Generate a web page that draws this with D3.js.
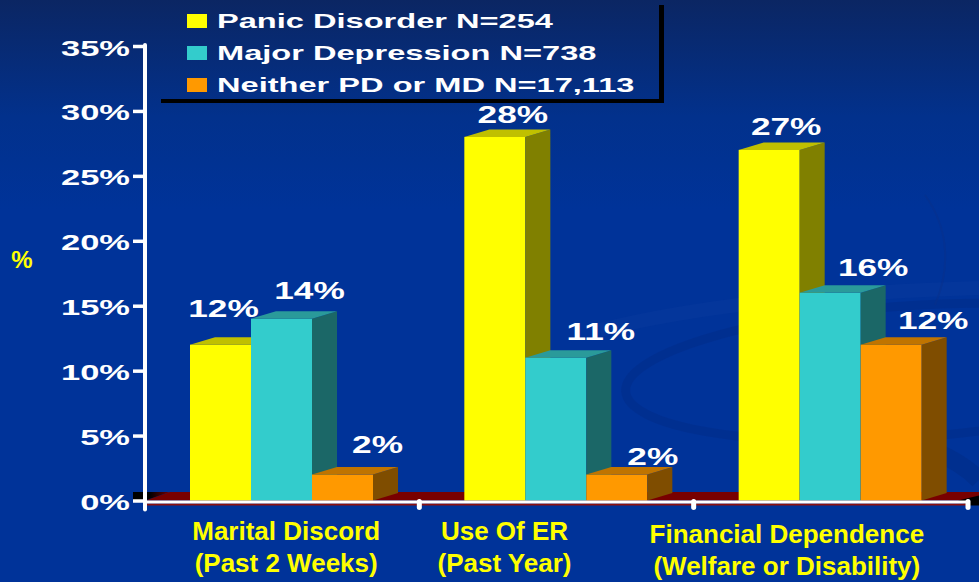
<!DOCTYPE html>
<html>
<head>
<meta charset="utf-8">
<script src="https://cdn.jsdelivr.net/npm/d3@7"></script>
<style>
  html, body { margin: 0; padding: 0; background: #003399; overflow: hidden; }
  svg { display: block; }
  text { font-family: "Liberation Sans", Arial, Helvetica, sans-serif; font-weight: bold; }
</style>
</head>
<body>
<svg id="chart" width="979" height="582"></svg>
<script>
// ---- data ----
const categories = ["Marital Discord", "Use Of ER", "Financial Dependence"];
const categorySublines = ["(Past 2 Weeks)", "(Past Year)", "(Welfare or Disability)"];
const seriesNames = ["Panic Disorder N=254", "Major Depression N=738", "Neither PD or MD N=17,113"];
const panicDisorder = [12, 28, 27];
const majorDepression = [14, 11, 16];
const neitherGroup = [2, 2, 12];
const yTicks = [0, 5, 10, 15, 20, 25, 30, 35];

// ---- hand-placed annotation nudges (px), indexed [category][series] ----
const valueLabelDx = [[3, 28, 35], [18, 45, 36], [17, 43, 42]];
const valueLabelGap = [[28, 20, 22], [14, 18, 10], [15, 17, 16]];
const categoryLabelDx = [4, -52, -44];
const categoryLabelDy = [0, 0, 3];

// ---- styles ----
const seriesValues = [panicDisorder, majorDepression, neitherGroup];
const faceFront = ["#FFFF00", "#33CCCC", "#FF9900"];
const faceSide  = ["#808000", "#1B6767", "#7F4D00"];
const faceTop   = ["#C0C000", "#2A9A9A", "#C07400"];
const depthX = 25, depthY = 7.5;

const W = 979, H = 582;
const svg = d3.select("#chart");

// ---- background ----
const defs = svg.append("defs");
const bg = defs.append("linearGradient").attr("id", "bgGrad")
  .attr("x1", 0).attr("y1", 0).attr("x2", 0).attr("y2", 1);
bg.append("stop").attr("offset", "0%").attr("stop-color", "#0b2663");
bg.append("stop").attr("offset", "20%").attr("stop-color", "#02318c");
bg.append("stop").attr("offset", "36%").attr("stop-color", "#003399");
bg.append("stop").attr("offset", "100%").attr("stop-color", "#003399");
svg.append("rect").attr("width", W).attr("height", H).attr("fill", "url(#bgGrad)");

const floorGrad = defs.append("linearGradient").attr("id", "floorLeft")
  .attr("x1", 0).attr("y1", 0).attr("x2", 1).attr("y2", 0);
floorGrad.append("stop").attr("offset", "0%").attr("stop-color", "#000000");
floorGrad.append("stop").attr("offset", "45%").attr("stop-color", "#000000");
floorGrad.append("stop").attr("offset", "100%").attr("stop-color", "#780000");

// faint decorative swooshes
const deco = svg.append("g").attr("fill", "none");
deco.append("ellipse")
  .attr("cx", 905).attr("cy", 372).attr("rx", 280).attr("ry", 66)
  .attr("transform", "rotate(-4 905 372)")
  .attr("stroke", "#00297f").attr("stroke-opacity", 0.3).attr("stroke-width", 9);
deco.append("path")
  .attr("d", "M600,330 C720,300 860,292 979,288")
  .attr("stroke", "#1a49a8").attr("stroke-opacity", 0.15).attr("stroke-width", 14);
deco.append("path")
  .attr("d", "M860,430 C920,440 960,460 979,480")
  .attr("stroke", "#002a80").attr("stroke-opacity", 0.4).attr("stroke-width", 18);
deco.append("path")
  .attr("d", "M925,195 C950,230 950,270 935,305")
  .attr("stroke", "#0a2f88").attr("stroke-opacity", 0.4).attr("stroke-width", 2);

// ---- scales ----
const y = d3.scaleLinear().domain([0, 35]).range([500.5, 46]);
const x = d3.scaleBand().domain(categories).range([145, 968]);
const inner = d3.scaleBand().domain(seriesNames).range([45, 45 + 183]);

// stretched white text helper
function wideText(parent, tx, ty, str, size, sx, anchor, fill) {
  return parent.append("text")
    .attr("transform", `translate(${tx},${ty}) scale(${sx},1)`)
    .attr("text-anchor", anchor)
    .attr("font-size", size)
    .attr("fill", fill)
    .text(str);
}

// ---- floor ----
const base = y(0);
const xStart = x.range()[0], xEnd = x.range()[1];
svg.append("polygon")
  .attr("points", [[xStart, base], [xStart + depthX, base - depthY - 1], [xEnd + depthX, base - depthY - 1], [xEnd, base]].join(" "))
  .attr("fill", "#780000");
svg.append("polygon")
  .attr("points", [[133, base - 8.5], [xStart + depthX, base - 8.5], [xStart, base], [133, base]].join(" "))
  .attr("fill", "url(#floorLeft)");
svg.append("polygon")
  .attr("points", [[xEnd - 10, base], [xEnd + depthX, base - depthY - 1], [W, base - depthY - 1], [W, base + 5], [xEnd, base + 5]].join(" "))
  .attr("fill", "#000000");

// ---- bars ----
const barsG = svg.append("g");
categories.forEach((cat, i) => {
  seriesNames.forEach((s, j) => {
    const v = seriesValues[j][i];
    const x0 = x(cat) + inner(s);
    const w = inner.bandwidth();
    const yt = y(v);
    barsG.append("rect")
      .attr("x", x0).attr("y", yt).attr("width", w).attr("height", base - yt)
      .attr("fill", faceFront[j]);
    barsG.append("polygon")
      .attr("points", [[x0 + w, yt], [x0 + w + depthX, yt - depthY], [x0 + w + depthX, base - depthY], [x0 + w, base]].join(" "))
      .attr("fill", faceSide[j]);
    barsG.append("polygon")
      .attr("points", [[x0, yt], [x0 + depthX, yt - depthY], [x0 + w + depthX, yt - depthY], [x0 + w, yt]].join(" "))
      .attr("fill", faceTop[j]);
  });
});

// ---- value labels ----
const labelsG = svg.append("g");
categories.forEach((cat, i) => {
  seriesNames.forEach((s, j) => {
    const v = seriesValues[j][i];
    const cx = x(cat) + inner(s) + inner.bandwidth() / 2 + valueLabelDx[i][j];
    wideText(labelsG, cx, y(v) - valueLabelGap[i][j], v + "%", 23.5, 1.5, "middle", "#FFFFFF");
  });
});

// ---- x axis ----
const xAxisG = svg.append("g");
xAxisG.append("line")
  .attr("x1", xStart).attr("x2", xEnd).attr("y1", base + 4).attr("y2", base + 4)
  .attr("stroke", "#8a1010").attr("stroke-width", 2);
xAxisG.append("line")
  .attr("x1", xStart).attr("x2", xEnd + 2).attr("y1", base + 1.5).attr("y2", base + 1.5)
  .attr("stroke", "#FFFFFF").attr("stroke-width", 3);
xAxisG.selectAll("line.tick")
  .data(categories)
  .join("line")
  .attr("class", "tick")
  .attr("x1", d => x(d) + x.bandwidth()).attr("x2", d => x(d) + x.bandwidth())
  .attr("y1", base + 1).attr("y2", base + 7)
  .attr("stroke", "#FFFFFF").attr("stroke-width", 5).attr("stroke-linecap", "round");

// ---- y axis ----
const yAxis = d3.axisLeft(y).tickValues(yTicks).tickSize(12).tickFormat(d => d + "%");
const yAxisG = svg.append("g").attr("transform", `translate(${xStart},0)`).call(yAxis);
yAxisG.select(".domain").remove();
yAxisG.selectAll(".tick line").attr("stroke", "#FFFFFF").attr("stroke-width", 3.5).attr("x1", -1);
yAxisG.selectAll(".tick text")
  .attr("x", 0).attr("dy", null)
  .attr("transform", "translate(-15,9) scale(1.5,1)")
  .attr("text-anchor", "end")
  .attr("fill", "#FFFFFF")
  .attr("font-size", 23)
  .attr("font-family", "\"Liberation Sans\", Arial, sans-serif")
  .attr("font-weight", "bold");
yAxisG.append("line")
  .attr("x1", 0).attr("x2", 0).attr("y1", y(35) - 1).attr("y2", base + 9)
  .attr("stroke", "#FFFFFF").attr("stroke-width", 4).attr("stroke-linecap", "round");

// y axis title
svg.append("text")
  .attr("x", 22).attr("y", 268)
  .attr("text-anchor", "middle")
  .attr("font-size", 24)
  .attr("fill", "#FFFF00")
  .text("%");

// ---- category labels ----
const catG = svg.append("g").attr("fill", "#FFFF00").attr("font-size", 26).attr("text-anchor", "middle");
categories.forEach((cat, i) => {
  const cx = x(cat) + x.bandwidth() / 2 + categoryLabelDx[i];
  catG.append("text").attr("x", cx).attr("y", 540 + categoryLabelDy[i]).text(cat);
  catG.append("text").attr("x", cx).attr("y", 572 + categoryLabelDy[i]).text(categorySublines[i]);
});

// ---- legend ----
const legendG = svg.append("g");
legendG.append("line")
  .attr("x1", 661.5).attr("x2", 661.5).attr("y1", 5).attr("y2", 103)
  .attr("stroke", "#000000").attr("stroke-width", 5);
legendG.append("line")
  .attr("x1", 161).attr("x2", 664).attr("y1", 101).attr("y2", 101)
  .attr("stroke", "#000000").attr("stroke-width", 4);
const legendRows = [28, 60, 92];
seriesNames.forEach((s, j) => {
  legendG.append("rect")
    .attr("x", 187).attr("y", legendRows[j] - 14).attr("width", 20).attr("height", 14)
    .attr("fill", faceFront[j]);
  wideText(legendG, 217, legendRows[j], s, 20, 1.63, "start", "#FFFFFF");
});
</script>
</body>
</html>
